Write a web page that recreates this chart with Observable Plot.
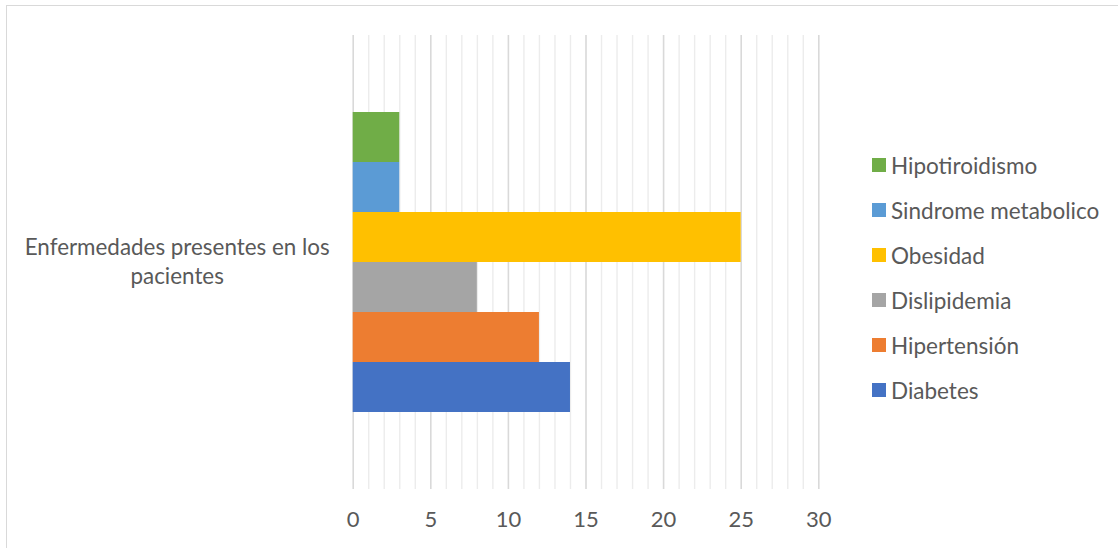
<!DOCTYPE html>
<html>
<head>
<meta charset="utf-8">
<script src="https://cdn.jsdelivr.net/npm/d3@7"></script>
<script src="https://cdn.jsdelivr.net/npm/@observablehq/plot@0.6"></script>
<style>
  html, body { margin: 0; padding: 0; background: #fff; overflow: hidden; }
  #wrap { position: relative; width: 1118px; height: 548px; font-family: Lato, "Open Sans", sans-serif; color: #595959; }
  #frame { position: absolute; left: 6px; top: 5px; width: 1200px; height: 600px; border-left: 1.5px solid #d9d9d9; border-top: 1.5px solid #d9d9d9; box-sizing: border-box; }
  #title { position: absolute; top: -31px; font-size: 27.5px; line-height: 33px; font-weight: bold; color: #000; white-space: nowrap; }
  #chart { position: absolute; left: 0; top: 0; }
  .leg { position: absolute; left: 872px; height: 24px; display: flex; align-items: center; font-size: 22.5px; white-space: nowrap; }
  .leg span.sw { display: inline-block; width: 14px; height: 14px; margin-right: 5px; }
</style>
</head>
<body>
<div id="wrap">
  <div id="frame"></div>
  <div id="chart"></div>
</div>
<script>
const title = "Enfermedades presentes en los pacientes";
const category = "Enfermedades presentes en los\npacientes";
const series = ["Diabetes", "Hipertensión", "Dislipidemia", "Obesidad", "Sindrome metabolico", "Hipotiroidismo"];
const values = [14, 12, 8, 25, 3, 3];
const colors = ["#4472C4", "#ED7D31", "#A5A5A5", "#FFC000", "#5B9BD5", "#70AD47"];
const xTicks = [0, 5, 10, 15, 20, 25, 30];
const minorTicks = d3.range(0, 31);

const data = series.map((s, i) => ({series: s, value: values[i]}));
const order = series.slice().reverse();

const plot = Plot.plot({
  width: 1118,
  height: 548,
  marginLeft: 352.7,
  marginRight: 299.7,
  marginTop: 35,
  marginBottom: 59,
  style: {fontFamily: "Lato, 'Open Sans', sans-serif", background: "transparent", color: "#595959"},
  x: {domain: [0, 30]},
  y: {domain: order, paddingInner: 0, paddingOuter: 1.48, axis: null},
  color: {domain: series, range: colors},
  marks: [
    Plot.ruleX(minorTicks.filter(d => d % 5 !== 0), {stroke: "#ececec", strokeWidth: 1.4}),
    Plot.ruleX(xTicks, {stroke: "#d9d9d9", strokeWidth: 1.6}),
    Plot.barX(data, {y: "series", x: "value", fill: "series"}),
    Plot.axisX(xTicks, {tickSize: 0, tickPadding: 22, fontSize: 22, fill: "#595959", label: null}),
    Plot.text([category], {frameAnchor: "left", dx: -176, dy: -2, textAnchor: "middle", lineHeight: 1.3, fontSize: 22.4, fill: "#595959", text: d => d})
  ]
});
document.getElementById("chart").appendChild(plot);

const wrap = document.getElementById("wrap");
// legend
order.forEach((s, i) => {
  const div = document.createElement("div");
  div.className = "leg";
  div.style.top = (165 + 45 * i - 12) + "px";
  const sw = document.createElement("span");
  sw.className = "sw";
  sw.style.background = colors[series.indexOf(s)];
  div.appendChild(sw);
  div.appendChild(document.createTextNode(s));
  wrap.appendChild(div);
});

// title (cut off at top in the reference)
const t = document.createElement("div");
t.id = "title";
t.textContent = title;
wrap.appendChild(t);
const probe = document.createElement("span");
probe.style.cssText = "position:absolute;visibility:hidden;font-size:27.5px;font-weight:bold;white-space:pre;font-family:Lato,'Open Sans',sans-serif";
probe.textContent = "Enfermedades ";
wrap.appendChild(probe);
t.style.left = (351 - probe.getBoundingClientRect().width) + "px";
probe.remove();
</script>
</body>
</html>
